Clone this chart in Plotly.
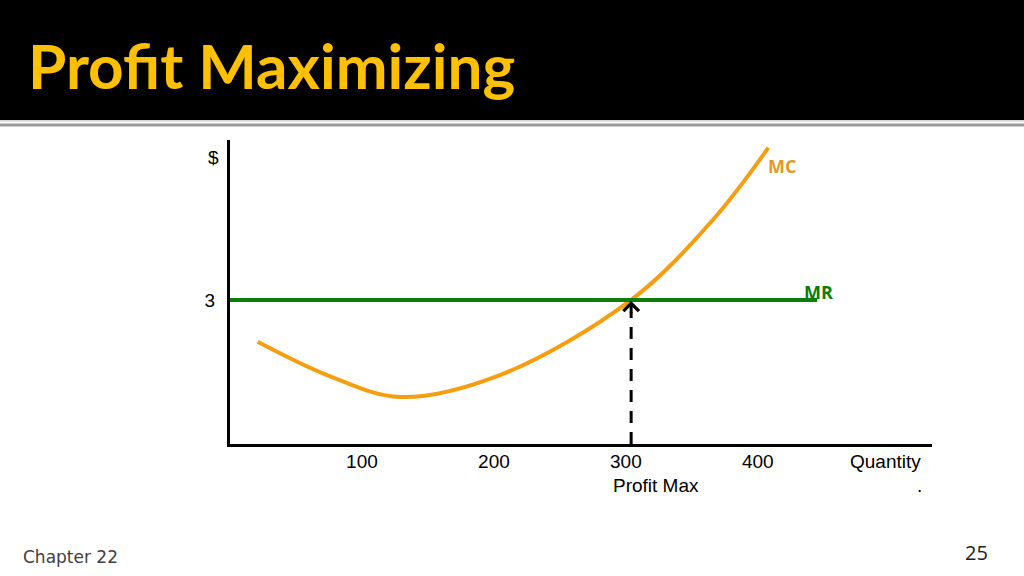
import plotly.graph_objects as go

# ---- data ----
mc_qty = [21, 75, 129, 205, 304, 366, 408]
mc_cost = [2.13, 1.42, 0.98, 1.44, 3.0, 4.67, 6.17]
mr_qty = [0, 445]
mr_price = [3, 3]
profit_max_qty = 304
price = 3
qty_ticks = [100, 200, 300, 400]

W, H = 1024, 576
ORANGE = "#F79E10"
GREEN = "#0A7D0A"


def py(p):
    # pixel row -> paper y
    return 1 - p / H


def px_(p):
    return p / W


fig = go.Figure()

fig.add_trace(go.Scatter(x=mc_qty, y=mc_cost, mode="lines",
                         line=dict(color=ORANGE, width=4, shape="spline", smoothing=1.0),
                         hoverinfo="skip"))
fig.add_trace(go.Scatter(x=mr_qty, y=mr_price, mode="lines",
                         line=dict(color=GREEN, width=4), hoverinfo="skip"))
fig.add_trace(go.Scatter(x=[profit_max_qty, profit_max_qty], y=[0, price - 0.25], mode="lines",
                         line=dict(color="black", width=3, dash="12px,9px"), hoverinfo="skip"))

# header band
fig.add_shape(type="rect", xref="paper", yref="paper", x0=0, x1=1, y0=py(120), y1=1,
              fillcolor="black", line_width=0, layer="below")
fig.add_shape(type="rect", xref="paper", yref="paper", x0=0, x1=1, y0=py(121.5), y1=py(120.3),
              fillcolor="#c8c8c8", line_width=0)
fig.add_shape(type="rect", xref="paper", yref="paper", x0=0, x1=1, y0=py(126.5), y1=py(123.5),
              fillcolor="#9a9a9a", line_width=0)

lbl = dict(family="Liberation Sans", size=19, color="black")
ann = [
    dict(text="<b>Profit Maximizing</b>", xref="paper", yref="paper", x=px_(26), y=py(65),
         xanchor="left", yanchor="middle", showarrow=False,
         font=dict(family="Lato", size=62, color="#FFC000")),
    dict(text="Chapter 22", xref="paper", yref="paper", x=px_(21), y=py(557),
         xanchor="left", yanchor="middle", showarrow=False,
         font=dict(family="DejaVu Sans", size=17, color="#404040")),
    dict(text="25", xref="paper", yref="paper", x=px_(990), y=py(552),
         xanchor="right", yanchor="middle", showarrow=False,
         font=dict(family="Open Sans", size=20, color="#202020")),
    dict(text="$", xref="paper", yref="paper", x=px_(213), y=py(157), xanchor="center",
         yanchor="middle", showarrow=False, font=lbl),
    dict(text="Quantity", xref="paper", yref="paper", x=px_(885), y=py(461),
         xanchor="center", yanchor="middle", showarrow=False, font=lbl),
    dict(text="Profit Max", xref="paper", yref="paper", x=px_(656), y=py(485),
         xanchor="center", yanchor="middle", showarrow=False, font=lbl),
    dict(text=".", xref="paper", yref="paper", x=px_(919), y=py(485),
         xanchor="center", yanchor="middle", showarrow=False, font=lbl),
    dict(text="<b>MC</b>", x=418, y=5.79, xanchor="center", yanchor="middle", showarrow=False,
         font=dict(family="Open Sans", size=18, color="#E39A20")),
    dict(text="<b>MR</b>", x=446, y=3.17, xanchor="center", yanchor="middle", showarrow=False,
         font=dict(family="Open Sans", size=18, color=GREEN)),
    # arrow head at MC = MR
    dict(x=profit_max_qty, y=price - 0.02, ax=profit_max_qty, ay=price - 0.3,
         xref="x", yref="y", axref="x", ayref="y", text="", showarrow=True,
         arrowhead=4, arrowsize=1, arrowwidth=3, arrowcolor="black"),
]

fig.update_layout(
    width=W, height=H, margin=dict(l=0, r=0, t=0, b=0),
    paper_bgcolor="white", plot_bgcolor="white", showlegend=False,
    annotations=ann,
    xaxis=dict(domain=[px_(230), px_(932)], range=[0, 532], showgrid=False, zeroline=False,
               showline=True, linecolor="black", linewidth=3,
               tickvals=qty_ticks, ticks="", ticklabelstandoff=-2, tickfont=lbl),
    yaxis=dict(domain=[py(444), py(140)], range=[0, 6.33], showgrid=False, zeroline=False,
               showline=True, linecolor="black", linewidth=3,
               tickvals=[price], ticks="", ticklabelstandoff=8, tickfont=lbl),
)

# drop the default page margin so the slide fills the window
fig.write_html("out.html", config={"displayModeBar": False},
               post_script="document.body.style.margin='0';")
